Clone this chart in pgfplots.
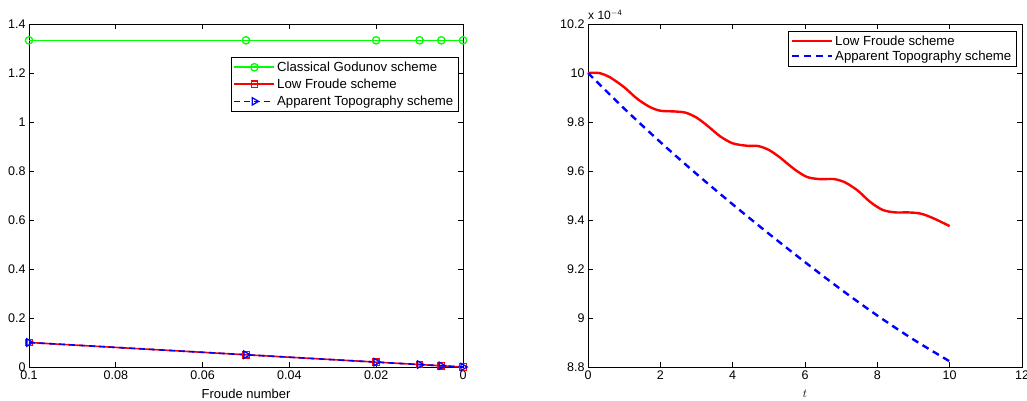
\documentclass[border=0pt]{standalone}
\usepackage{fontspec}
\setmainfont{Liberation Sans}
\usepackage{pgfplots}
\pgfplotsset{compat=1.18}
\begin{document}
\begin{tikzpicture}
\pgfplotsset{
  every axis/.append style={
    scale only axis, width=434pt, height=343pt,
    axis line style={black, line width=0.8pt},
    tick align=inside, major tick length=5pt,
    tick style={black, line width=0.6pt},
    /pgf/number format/assume math mode=true,
    tick label style={font=\fontsize{12.5}{14}\selectfont},
    label style={font=\fontsize{13}{15}\selectfont},
    legend cell align=left,
    legend style={draw=black, fill=white, font=\fontsize{13.2}{15}\selectfont, inner sep=2.5pt},
    legend image code/.code={\draw[mark repeat=2,mark phase=2] plot coordinates {(0pt,0pt) (20pt,0pt) (40pt,0pt)};},
  }
}
\begin{axis}[
  at={(29pt,33pt)}, anchor=south west,
  x dir=reverse, xmin=0, xmax=0.1, ymin=0, ymax=1.4,
  xtick={0,0.02,0.04,0.06,0.08,0.1},
  xticklabels={0,0.02,0.04,0.06,0.08,0.1},
  ytick={0,0.2,0.4,0.6,0.8,1,1.2,1.4},
  yticklabels={0,0.2,0.4,0.6,0.8,1,1.2,1.4},
  xlabel={Froude number}, xlabel style={yshift=-3pt},
  legend style={at={(1,1)}, xshift=-5pt, yshift=-33pt, anchor=north east, row sep=2pt},
]
\addplot[color=green, line width=1.6pt, mark=o, mark size=3.7pt, mark options={solid, line width=1.3pt}] coordinates {
(0.1,1.3333) (0.05,1.3333) (0.02,1.3333) (0.01,1.3333) (0.005,1.3333) (0,1.3333)};
\addlegendentry{Classical Godunov scheme}
\addplot[color=red, line width=1.6pt, mark=square, mark size=3.2pt, mark options={solid, line width=1.3pt}] coordinates {
(0.1,0.1) (0.05,0.05) (0.02,0.02) (0.01,0.01) (0.005,0.005) (0,0)};
\addlegendentry{Low Froude scheme}
\addplot[color=blue, line width=1.6pt, dash pattern=on 6pt off 4pt, mark=triangle, mark size=4.2pt, mark options={solid, line width=1.3pt, rotate=-90}] coordinates {
(0.1,0.1) (0.05,0.05) (0.02,0.02) (0.01,0.01) (0.005,0.005) (0,0)};
\addlegendentry{Apparent Topography scheme}
\end{axis}
\begin{axis}[
  at={(588pt,33pt)}, anchor=south west,
  xmin=0, xmax=12, ymin=8.8, ymax=10.2,
  xtick={0,2,4,6,8,10,12},
  ytick={8.8,9,9.2,9.4,9.6,9.8,10,10.2},
  yticklabels={8.8,9,9.2,9.4,9.6,9.8,10,10.2},
  xlabel={$t$}, xlabel style={yshift=-4pt},
  legend style={at={(1,1)}, xshift=-6pt, yshift=-7pt, anchor=north east},
  clip=false,
]
\addplot[color=red, line width=2.4pt, smooth] coordinates {
(0,10.000) (0.3,10.000) (0.6,9.983) (1.0,9.942) (1.35,9.896) (1.7,9.862) (2.0,9.846) (2.4,9.843) (2.7,9.838) (3.0,9.818) (3.3,9.785) (3.65,9.742) (4.0,9.713) (4.4,9.703) (4.7,9.702) (5.0,9.686) (5.3,9.656) (5.7,9.608) (6.05,9.576) (6.4,9.567) (6.8,9.567) (7.1,9.554) (7.45,9.521) (7.8,9.474) (8.15,9.441) (8.5,9.431) (8.85,9.431) (9.2,9.426) (9.55,9.407) (10,9.375)};
\addlegendentry{Low Froude scheme}
\addplot[color=blue, line width=2.4pt, dash pattern=on 7pt off 5pt, smooth] coordinates {
(0,10.000) (1,9.855) (2,9.718) (3,9.588) (4,9.464) (5,9.344) (6,9.228) (7,9.116) (8,9.010) (9,8.912) (10,8.823)};
\addlegendentry{Apparent Topography scheme}
\node[anchor=south west, inner sep=0pt, font=\fontsize{12}{14}\selectfont] at (rel axis cs:0,1) [yshift=4pt] {x 10$^{\mathsf{-4}}$};
\end{axis}
\pgfresetboundingbox
\path[use as bounding box] (0,0) rectangle (1027pt,400pt);
\end{tikzpicture}
\end{document}
